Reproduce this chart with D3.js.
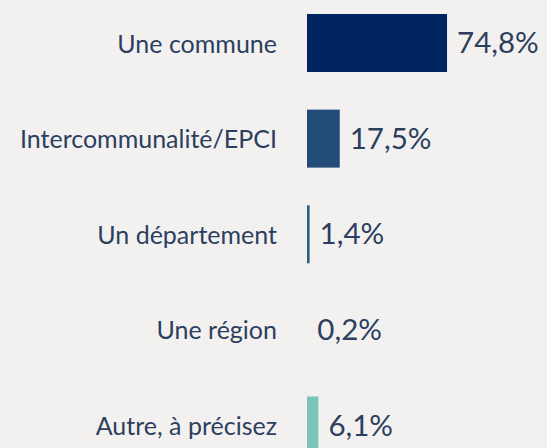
<!DOCTYPE html>
<html>
<head>
<meta charset="utf-8">
<script src="https://cdn.jsdelivr.net/npm/d3@7"></script>
<style>
  body { margin: 0; background: #f3f1f0; }
  svg { display: block; }
</style>
</head>
<body>
<div id="chart"></div>
<script>
// Data
const categories = ["Une commune", "Intercommunalité/EPCI", "Un département", "Une région", "Autre, à précisez"];
const values = [74.8, 17.5, 1.4, 0.2, 6.1];
const valueLabels = ["74,8%", "17,5%", "1,4%", "0,2%", "6,1%"];
const barColors = ["#002561", "#224b77", "#2e5f7e", "#d6ebe6", "#7ac5b8"];

const width = 547, height = 448;

const svg = d3.select("#chart")
  .append("svg")
    .attr("width", width)
    .attr("height", height);

// Scales
const x = d3.scaleLinear()
    .domain([0, 100])
    .range([307, 307 + 187.2]);

const y = d3.scalePoint()
    .domain(categories)
    .range([43, 425.5]);

const barH = 58;

const rows = svg.selectAll(".row")
  .data(categories)
  .join("g")
    .attr("class", "row")
    .attr("transform", d => `translate(0,${y(d)})`);

rows.append("rect")
    .attr("x", x(0))
    .attr("y", -barH / 2)
    .attr("width", (d, i) => x(values[i]) - x(0))
    .attr("height", barH)
    .style("fill", (d, i) => barColors[i]);

// Category labels
rows.append("text")
    .attr("x", 277)
    .attr("y", 9.5)
    .attr("text-anchor", "end")
    .style("font-family", "Lato, sans-serif")
    .style("font-size", "25px")
    .style("fill", "#2c3f5f")
    .text(d => d);

// Value labels
rows.append("text")
    .attr("x", (d, i) => x(values[i]) + 10)
    .attr("y", 10)
    .style("font-family", "Lato, sans-serif")
    .style("font-size", "29.5px")
    .style("fill", "#2c3f5f")
    .text((d, i) => valueLabels[i]);
</script>
</body>
</html>
